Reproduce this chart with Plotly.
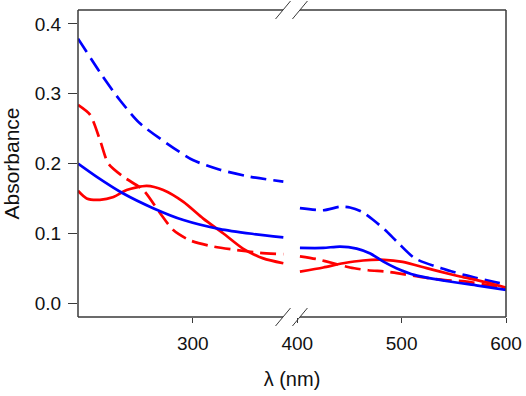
import plotly.graph_objects as go

# ---- data (nm, absorbance) ----
blue_dash_left_x = [190, 214, 230, 249, 275, 300, 326, 355, 386.7]
blue_dash_left_y = [0.379, 0.324, 0.291, 0.258, 0.229, 0.205, 0.191, 0.181, 0.174]
blue_dash_right_x = [402.6, 425, 441, 450.5, 461.7, 472.9, 484, 496.8, 512.8, 538, 560.7, 586, 600]
blue_dash_right_y = [0.136, 0.133, 0.138, 0.137, 0.131, 0.119, 0.105, 0.086, 0.064, 0.050, 0.040, 0.031, 0.027]

red_dash_left_x = [190, 201.5, 211, 219, 233.4, 252.5, 268.5, 281, 297, 319.6, 342, 364.3, 386.7]
red_dash_left_y = [0.284, 0.270, 0.234, 0.200, 0.181, 0.162, 0.129, 0.105, 0.090, 0.081, 0.076, 0.072, 0.070]
red_dash_right_x = [402.6, 418.6, 434.6, 450.5, 468, 485.7, 503, 524, 541.5, 560.7, 589.5, 600]
red_dash_right_y = [0.067, 0.063, 0.057, 0.051, 0.047, 0.045, 0.041, 0.036, 0.033, 0.031, 0.024, 0.022]

blue_solid_left_x = [190, 208, 233.4, 262, 291, 326, 358, 386.7]
blue_solid_left_y = [0.200, 0.181, 0.157, 0.136, 0.119, 0.106, 0.099, 0.094]
blue_solid_right_x = [402.6, 425, 441, 457, 470, 483, 495, 513, 541, 573, 600]
blue_solid_right_y = [0.079, 0.079, 0.081, 0.078, 0.071, 0.059, 0.050, 0.040, 0.032, 0.025, 0.019]

red_solid_left_x = [190, 198.3, 211, 224, 236.6, 255.8, 271.7, 291, 310, 329, 348, 367.5, 386.7]
red_solid_left_y = [0.161, 0.150, 0.148, 0.152, 0.162, 0.168, 0.162, 0.145, 0.121, 0.100, 0.078, 0.064, 0.057]
red_solid_right_x = [402.6, 425, 444, 463, 483, 501, 524, 537, 556, 580, 600]
red_solid_right_y = [0.045, 0.051, 0.057, 0.061, 0.062, 0.059, 0.050, 0.045, 0.038, 0.030, 0.022]

x_ticks = [300, 400, 500, 600]
y_ticks = [0.0, 0.1, 0.2, 0.3, 0.4]

X_RANGE = [190, 600]
Y_RANGE = [-0.02, 0.42]

BLUE = "#0000FF"
RED = "#FF0000"
DASH = "16px,7px"
AX = "#3a3a3a"
FONT = "Arial, Liberation Sans, sans-serif"

fig = go.Figure()

def add(xl, yl, xr, yr, color, dash):
    xs = xl + [None] + xr
    ys = yl + [None] + yr
    fig.add_trace(go.Scatter(x=xs, y=ys, mode="lines", connectgaps=False,
                             line=dict(color=color, width=2.7, dash=dash, shape="spline", smoothing=0.7),
                             showlegend=False, hoverinfo="skip"))

add(blue_dash_left_x, blue_dash_left_y, blue_dash_right_x, blue_dash_right_y, BLUE, DASH)
add(red_dash_left_x, red_dash_left_y, red_dash_right_x, red_dash_right_y, RED, DASH)
add(red_solid_left_x, red_solid_left_y, red_solid_right_x, red_solid_right_y, RED, "solid")
add(blue_solid_left_x, blue_solid_left_y, blue_solid_right_x, blue_solid_right_y, BLUE, "solid")

# frame with axis break drawn as shapes (paper coords)
def px(nm):
    return (nm - X_RANGE[0]) / (X_RANGE[1] - X_RANGE[0])

gap_l, gap_r = px(386.4), px(402.6)
lw = 1.5
shapes = []
for yy in (0, 1):
    shapes.append(dict(type="line", xref="paper", yref="paper", x0=0, x1=gap_l, y0=yy, y1=yy,
                       line=dict(color=AX, width=lw)))
    shapes.append(dict(type="line", xref="paper", yref="paper", x0=gap_r, x1=1, y0=yy, y1=yy,
                       line=dict(color=AX, width=lw)))
    for c in (gap_l, gap_r):
        dx, dy = 0.0175, 0.0293
        shapes.append(dict(type="line", xref="paper", yref="paper", x0=c - dx, x1=c + dx,
                           y0=yy - dy, y1=yy + dy, line=dict(color=AX, width=1)))
for xx in (0, 1):
    shapes.append(dict(type="line", xref="paper", yref="paper", x0=xx, x1=xx, y0=0, y1=1,
                       line=dict(color=AX, width=lw)))

fig.update_layout(
    width=526, height=396,
    margin=dict(l=78, r=20, t=10, b=79),
    plot_bgcolor="white", paper_bgcolor="white",
    font=dict(family=FONT, color="#111111"),
    shapes=shapes,
    xaxis=dict(range=X_RANGE, tickvals=x_ticks, ticks="outside", ticklen=5, tickcolor=AX,
               tickwidth=1.2, showgrid=False, zeroline=False, showline=False, automargin=False,
               tickfont=dict(size=19), ticklabelstandoff=4,
               title=dict(text="λ (nm)", font=dict(size=20), standoff=19)),
    yaxis=dict(range=Y_RANGE, tickvals=y_ticks, tickformat=".1f", ticks="outside", ticklen=9,
               tickcolor=AX, tickwidth=1.2, showgrid=False, zeroline=False, showline=False,
               automargin=False, tickfont=dict(size=19), ticklabelstandoff=3,
               title=dict(text="Absorbance", font=dict(size=21), standoff=11)),
)

# remove the default page margin so the 526x396 figure fills the window exactly
fig.write_html("out.html",
               config={"displayModeBar": False},
               post_script="document.body.style.margin='0';document.body.style.overflow='hidden';")
